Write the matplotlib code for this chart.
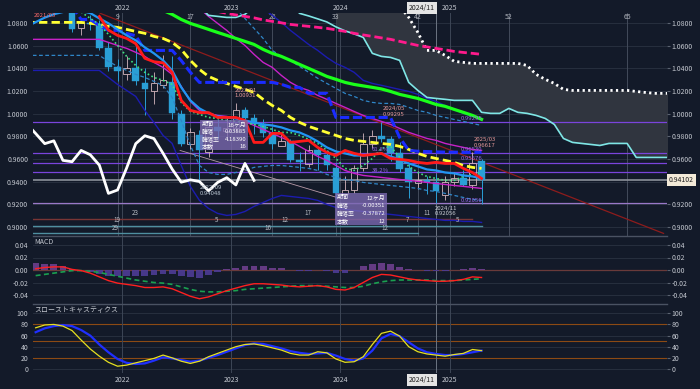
import numpy as np
import matplotlib.pyplot as plt
from matplotlib.patches import Rectangle
from matplotlib.ticker import FormatStrFormatter
from matplotlib.transforms import blended_transform_factory

plt.rcParams['font.family'] = ['Noto Sans CJK JP', 'DejaVu Sans']

BG = '#131a29'
TXT = '#c4c8d0'
GRID = '#2a3242'
VLINE = '#3d4656'

# monthly bars: index 0 = 2021/07 ... index 45 = 2025/04
opens = [1.0962, 1.0755, 1.0805, 1.0795, 1.0580, 1.0415, 1.0350, 1.0405, 1.0275, 1.0197,
         1.0250, 1.0277, 1.0000, 0.9728, 0.9810, 0.9665, 0.9880, 0.9850, 0.9875, 1.0030,
         0.9960, 0.9913, 0.9825, 0.9718, 0.9760, 0.9587, 0.9558, 0.9675, 0.9637, 0.9520,
         0.9290, 0.9325, 0.9520, 0.9730, 0.9805, 0.9780, 0.9650, 0.9516, 0.9390, 0.9415,
         0.9395, 0.9280, 0.9392, 0.9434, 0.9370, 0.9580]
highs = [1.0965, 1.0835, 1.0870, 1.0830, 1.0635, 1.0480, 1.0510, 1.0610, 1.0400, 1.0366,
         1.0516, 1.0507, 1.0035, 0.9870, 0.9860, 0.9920, 0.9950, 0.9960, 1.0093, 1.0060,
         1.0000, 0.9950, 0.9880, 0.9840, 0.9780, 0.9660, 0.9720, 0.9700, 0.9680, 0.9560,
         0.9450, 0.9550, 0.9825, 0.9855, 0.99295, 0.9800, 0.9750, 0.9560, 0.9490, 0.9450,
         0.9470, 0.9450, 0.9480, 0.9500, 0.96617, 0.9600]
lows = [1.0720, 1.0700, 1.0745, 1.0560, 1.0380, 1.0290, 1.0295, 1.0250, 0.9985, 1.0090,
        1.0224, 0.9950, 0.9710, 0.9690, 0.94048, 0.9620, 0.9780, 0.9780, 0.9840, 0.9890,
        0.9820, 0.9790, 0.9690, 0.9710, 0.9570, 0.9490, 0.9530, 0.9500, 0.9500, 0.9250,
        0.9260, 0.9300, 0.9490, 0.9700, 0.9750, 0.9580, 0.9480, 0.9250, 0.9330, 0.9290,
        0.92056, 0.9240, 0.9360, 0.9360, 0.9330, 0.9205]
closes = [1.0750, 1.0805, 1.0795, 1.0580, 1.0415, 1.0375, 1.0400, 1.0285, 1.0215, 1.0268,
          1.0295, 1.0010, 0.9736, 0.9834, 0.9675, 0.9880, 0.9850, 0.9875, 1.0030, 0.9960,
          0.9913, 0.9825, 0.9735, 0.9760, 0.9587, 0.9575, 0.9675, 0.9637, 0.9545, 0.9295,
          0.9325, 0.9520, 0.9735, 0.9805, 0.9780, 0.9650, 0.9510, 0.9394, 0.9415, 0.9400,
          0.9318, 0.9392, 0.9434, 0.9370, 0.9560, 0.9410]
last_price = 0.94102
chikou_shift = 25

# overlay lines: (first bar index, values)
tenkan = (3, [1.0860, 1.0740, 1.0693, 1.0666, 1.0620, 1.0490, 1.0460, 1.0450, 1.0366, 1.0118,
              1.0030, 1.0010, 1.0010, 0.9967, 0.9967, 0.9967, 0.9940, 0.9746, 0.9746, 0.9826,
              0.9826, 0.9746, 0.9755, 0.9764, 0.9702, 0.9658, 0.9630, 0.9675, 0.9649, 0.9630,
              0.9640, 0.9649, 0.9604, 0.9596, 0.9587, 0.9570, 0.9560, 0.9570, 0.9560, 0.9560,
              0.9516, 0.9480, 0.9427])
ma_short = (-5, [1.0770, 1.0810, 1.0850, 1.0880, 1.0900, 1.0910, 1.0910, 1.0890, 1.0843, 1.0800,
                 1.0746, 1.0693, 1.0649, 1.0587, 1.0534, 1.0472, 1.0383, 1.0233, 1.0118, 1.0047,
                 1.0003, 0.9976, 0.9967, 0.9958, 0.9940, 0.9923, 0.9905, 0.9896, 0.9879, 0.9852,
                 0.9834, 0.9799, 0.9755, 0.9702, 0.9666, 0.9649, 0.9630, 0.9630, 0.9640, 0.9649,
                 0.9622, 0.9596, 0.9560, 0.9534, 0.9507, 0.9498, 0.9480, 0.9472, 0.9454, 0.9445,
                 0.9427])
kijun = (0, [1.0950, 1.0834, 1.0834, 1.0780, 1.0737, 1.0737, 1.0710, 1.0690, 1.0560, 1.0560,
             1.0560, 1.0560, 1.0470, 1.0366, 1.0277, 1.0277, 1.0277, 1.0277, 1.0277, 1.0277,
             1.0277, 1.0277, 1.0277, 1.0260, 1.0233, 1.0233, 1.0180, 1.0180, 1.0180, 0.9967,
             0.9967, 0.9967, 0.9967, 0.9967, 0.9967, 0.9967, 0.9790, 0.9675, 0.9668, 0.9665,
             0.9662, 0.9660, 0.9660, 0.9658, 0.9658, 0.9658])
ma_mid = (-5, [1.0808, 1.0808, 1.0808, 1.0808, 1.0808, 1.0808, 1.0808, 1.0800, 1.0790, 1.0773,
               1.0764, 1.0746, 1.0728, 1.0711, 1.0684, 1.0666, 1.0631, 1.0569, 1.0472, 1.0392,
               1.0330, 1.0295, 1.0268, 1.0242, 1.0215, 1.0189, 1.0127, 1.0073, 1.0029, 0.9967,
               0.9923, 0.9888, 0.9861, 0.9834, 0.9808, 0.9781, 0.9764, 0.9755, 0.9746, 0.9737,
               0.9728, 0.9711, 0.9684, 0.9649, 0.9622, 0.9604, 0.9587, 0.9569, 0.9542, 0.9525,
               0.9516])
ma_fast = (1, [1.0900, 1.0843, 1.0790, 1.0702, 1.0604, 1.0507, 1.0427, 1.0366, 1.0321, 1.0295,
               1.0259, 1.0100, 1.0020, 0.9994, 0.9967, 0.9958, 0.9940, 0.9931, 0.9923, 0.9905,
               0.9888, 0.9861, 0.9834, 0.9834, 0.9808, 0.9773, 0.9737, 0.9675, 0.9604, 0.9516,
               0.9498, 0.9542, 0.9604, 0.9693, 0.9711, 0.9613, 0.9534, 0.9480, 0.9445, 0.9427,
               0.9410, 0.9410, 0.9445, 0.9463, 0.9480])
band_mag_low = (-5, [1.0658, 1.0658, 1.0658, 1.0658, 1.0658, 1.0658, 1.0658, 1.0658, 1.0658, 1.0631,
                     1.0604, 1.0578, 1.0543, 1.0507, 1.0454, 1.0410, 1.0348, 1.0242, 1.0109, 1.0029,
                     1.0003, 0.9985, 0.9976, 0.9958, 0.9931, 0.9896, 0.9861, 0.9826, 0.9790, 0.9755,
                     0.9711, 0.9666, 0.9622, 0.9587, 0.9542, 0.9498, 0.9472, 0.9454, 0.9445, 0.9436,
                     0.9427, 0.9418, 0.9410, 0.9401, 0.9392, 0.9383, 0.9374, 0.9365, 0.9357, 0.9348,
                     0.9339])
band_mag_up = (14, [1.0932, 1.0861, 1.0799, 1.0737, 1.0666, 1.0604, 1.0525, 1.0454, 1.0410, 1.0339,
                    1.0277, 1.0233, 1.0206, 1.0162, 1.0127, 1.0091, 1.0056, 1.0020, 0.9985, 0.9958,
                    0.9932, 0.9905, 0.9870, 0.9835, 0.9808, 0.9781, 0.9764, 0.9737, 0.9719, 0.9702,
                    0.9684, 0.9675])
band_dash_up = (18, [1.0932, 1.0843, 1.0755, 1.0666, 1.0560, 1.0507, 1.0472, 1.0419, 1.0366, 1.0313,
                     1.0268, 1.0224, 1.0180, 1.0153, 1.0118, 1.0100, 1.0091, 1.0091, 1.0082, 1.0056,
                     1.0029, 1.0012, 0.9985, 0.9967, 0.9949, 0.9932, 0.9914, 0.9896])
band_dash_low = (-5, [1.0516, 1.0516, 1.0516, 1.0516, 1.0516, 1.0516, 1.0516, 1.0516, 1.0516, 1.0463,
                      1.0419, 1.0383, 1.0348, 1.0321, 1.0286, 1.0250, 1.0144, 0.9940, 0.9720, 0.9542,
                      0.9480, 0.9463, 0.9463, 0.9480, 0.9498, 0.9525, 0.9534, 0.9542, 0.9542, 0.9534,
                      0.9525, 0.9516, 0.9498, 0.9463, 0.9436, 0.9418, 0.9410, 0.9392, 0.9383, 0.9374,
                      0.9365, 0.9357, 0.9348, 0.9339, 0.9321, 0.9312, 0.9295, 0.9277, 0.9259, 0.9241,
                      0.9233])
band_navy_up = (21, [1.0932, 1.0870, 1.0808, 1.0737, 1.0675, 1.0613, 1.0560, 1.0498, 1.0445, 1.0410,
                     1.0366, 1.0295, 1.0268, 1.0251, 1.0233, 1.0215, 1.0197, 1.0171, 1.0135, 1.0109,
                     1.0073, 1.0038, 1.0003, 0.9976, 0.9958])
band_navy_low = (-5, [1.0383, 1.0383, 1.0383, 1.0383, 1.0383, 1.0383, 1.0383, 1.0383, 1.0383, 1.0321,
                      1.0259, 1.0206, 1.0153, 1.0029, 0.9923, 0.9808, 0.9737, 0.9542, 0.9357, 0.9233,
                      0.9162, 0.9118, 0.9100, 0.9109, 0.9135, 0.9180, 0.9215, 0.9250, 0.9277, 0.9268,
                      0.9259, 0.9250, 0.9233, 0.9197, 0.9171, 0.9153, 0.9144, 0.9135, 0.9127, 0.9118,
                      0.9109, 0.9100, 0.9091, 0.9082, 0.9073, 0.9065, 0.9056, 0.9056, 0.9047, 0.9047,
                      0.9038])
ma_long = (10, [1.0914, 1.0879, 1.0834, 1.0799, 1.0773, 1.0746, 1.0719, 1.0693, 1.0666, 1.0640,
                1.0613, 1.0569, 1.0534, 1.0507, 1.0472, 1.0436, 1.0401, 1.0366, 1.0330, 1.0304,
                1.0277, 1.0259, 1.0246, 1.0233, 1.0219, 1.0197, 1.0171, 1.0153, 1.0135, 1.0109,
                1.0082, 1.0065, 1.0038, 1.0012, 0.9985, 0.9950])
ma_xlong = (16, [1.0905, 1.0888, 1.0874, 1.0861, 1.0848, 1.0830, 1.0817, 1.0804, 1.0790, 1.0781,
                 1.0773, 1.0764, 1.0755, 1.0742, 1.0728, 1.0711, 1.0697, 1.0684, 1.0671, 1.0658,
                 1.0640, 1.0622, 1.0604, 1.0591, 1.0578, 1.0565, 1.0551, 1.0542, 1.0534, 1.0525])
span_cyan = (14, [1.0950, 1.0870, 1.0861, 1.0852, 1.0852, 1.0879, 1.0950, 1.0990, 1.1000, 1.1000,
                  1.0980, 1.0888, 1.0865, 1.0839, 1.0812, 1.0768, 1.0733, 1.0706, 1.0675, 1.0534,
                  1.0507, 1.0498, 1.0472, 1.0277, 1.0206, 1.0144, 1.0135, 1.0127, 1.0118, 1.0118,
                  1.0118, 1.0012, 1.0003, 1.0003, 1.0047, 1.0012, 1.0003, 0.9985, 0.9958, 0.9905,
                  0.9781, 0.9746, 0.9737, 0.9728, 0.9719, 0.9737, 0.9737, 0.9737, 0.9613, 0.9613,
                  0.9613, 0.9613, 0.9613])
span_white = (29, [1.1000, 1.1000, 1.1000, 1.1000, 1.1000, 1.1000, 1.0980, 1.0950, 1.0852, 1.0719,
                   1.0560, 1.0560, 1.0516, 1.0463, 1.0454, 1.0445, 1.0445, 1.0445, 1.0445, 1.0445,
                   1.0445, 1.0427, 1.0348, 1.0304, 1.0268, 1.0215, 1.0206, 1.0206, 1.0206, 1.0206,
                   1.0206, 1.0206, 1.0206, 1.0197, 1.0188, 1.0180, 1.0180, 1.0180])

trend_x = [3.1, 65.0]
trend_y = [1.0888, 0.8941]
range_x = [11.87, 29.1]
range_y = [0.9675, 0.9259]

fib_levels = [0.99295, 0.96530, 0.95676, 0.94820]
fib_low = 0.92056
fib_tags = ['0.99295', '0.96530', '0.95676', '0.92056']
fib_tag_y = [0.9958, 0.9684, 0.9600, 0.9233]
fib_pct = ['61.8%', '38.2%']
fib_pct_y = [0.9684, 0.9498]

years = ['2022', '2023', '2024', '2025']
year_pos = [5.5, 17.5, 29.5, 41.5]
count_labels = ['9', '17', '26', '33', '42', '52', '65']
count_pos = [5, 13, 22, 29, 38, 48, 61]
cursor_pos = 40
cursor_label = '2024/11'

span_levels = [0.9071, 0.9008, 0.8943]
span_ends = [44, 45, 38]
span_texts = [[('23', 6.9), ('17', 25.9), ('11', 39.0)],
              [('19', 4.9), ('5', 15.9), ('12', 23.4), ('7', 36.9), ('5', 42.4)],
              [('29', 4.8), ('16', 21.5), ('12', 34.4)]]

box1_rows = [('期間', '16ヶ月'), ('騰落', '0.03885'), ('騰落率', '4.18390'), ('本数', '16')]
box2_rows = [('期間', '12ヶ月'), ('騰落', '-0.00351'), ('騰落率', '-0.37872'), ('本数', '12')]

# MACD and slow stochastics, first index -4
macd_line = [0.002, 0.004, 0.005, 0.005, 0.001, -0.001, -0.005, -0.011, -0.017, -0.021,
             -0.023, -0.025, -0.028, -0.028, -0.027, -0.030, -0.036, -0.042, -0.046, -0.043,
             -0.038, -0.033, -0.029, -0.025, -0.022, -0.022, -0.023, -0.024, -0.026, -0.027,
             -0.026, -0.025, -0.027, -0.031, -0.032, -0.028, -0.020, -0.012, -0.007, -0.008,
             -0.011, -0.014, -0.016, -0.017, -0.018, -0.018, -0.017, -0.015, -0.011, -0.012]
macd_signal = [-0.009, -0.007, -0.005, -0.003, -0.001, -0.001, -0.002, -0.004, -0.007, -0.010,
               -0.013, -0.016, -0.018, -0.020, -0.021, -0.023, -0.027, -0.031, -0.034, -0.035,
               -0.035, -0.034, -0.033, -0.031, -0.030, -0.029, -0.028, -0.027, -0.026, -0.025,
               -0.025, -0.025, -0.026, -0.027, -0.028, -0.028, -0.026, -0.022, -0.019, -0.017,
               -0.016, -0.016, -0.016, -0.016, -0.017, -0.017, -0.017, -0.016, -0.015, -0.014]
macd_hist = [0.011, 0.010, 0.009, 0.007, 0.002, 0.000, -0.003, -0.007, -0.009, -0.010,
             -0.010, -0.009, -0.009, -0.008, -0.006, -0.007, -0.009, -0.011, -0.012, -0.008,
             -0.003, 0.001, 0.004, 0.006, 0.007, 0.006, 0.004, 0.003, 0.000, -0.002,
             -0.001, 0.000, -0.001, -0.004, -0.004, 0.000, 0.006, 0.010, 0.012, 0.009,
             0.005, 0.002, 0.000, -0.001, -0.001, -0.001, 0.000, 0.001, 0.004, 0.002]
stoch_k = [74, 79, 80, 77, 69, 52, 36, 23, 12, 5, 7, 11, 15, 19, 25, 20, 14, 10, 14, 22,
           28, 34, 40, 44, 45, 42, 38, 34, 28, 25, 25, 31, 29, 18, 12, 13, 22, 44, 64, 68,
           59, 40, 31, 27, 25, 23, 26, 28, 35, 33]
stoch_d = [66, 73, 77, 79, 77, 70, 60, 44, 30, 18, 11, 9, 10, 15, 21, 19, 16, 13, 15, 20,
           25, 31, 37, 43, 46, 45, 41, 37, 32, 29, 27, 28, 29, 24, 18, 15, 19, 33, 55, 63,
           59, 48, 37, 30, 27, 25, 25, 27, 30, 33]
osc_start = -4


def draw(ax, line, **kw):
    start, vals = line
    ax.plot(np.arange(start, start + len(vals)), vals, **kw)


fig = plt.figure(figsize=(7.0, 3.89), dpi=100, facecolor=BG)
L, W = 33 / 700, 634 / 700
ax = fig.add_axes([L, 153 / 389, W, 223 / 389])
ax_m = fig.add_axes([L, 85 / 389, W, 68 / 389])
ax_s = fig.add_axes([L, 16 / 389, W, 69 / 389])

for a in (ax, ax_m, ax_s):
    a.set_facecolor(BG)
    a.set_xlim(-4.29, 65.38)
    for s in a.spines.values():
        s.set_visible(False)
    a.tick_params(axis='y', labelleft=True, labelright=True, left=False, right=True,
                  length=2, color='#5a6270', labelsize=5, labelcolor=TXT, pad=1.5)
    a.tick_params(axis='x', bottom=False, labelbottom=False)
    for p in year_pos:
        a.axvline(p, color=VLINE, lw=0.7, zorder=0.8)
    a.axvline(cursor_pos, color='#6c7482', lw=0.7, zorder=0.8)
for a in (ax_m, ax_s):
    a.spines['top'].set_visible(True)
    a.spines['top'].set_color('#4a5262')
    a.spines['top'].set_linewidth(1.0)

# ---- main panel ----
ax.set_ylim(0.8918, 1.0891)
main_ticks = np.arange(0.90, 1.0801, 0.02)
ax.set_yticks(main_ticks)
ax.yaxis.set_major_formatter(FormatStrFormatter('%.4f'))
# the right-hand 0.9400 label sits under the last-price tag
for t, v in zip(ax.yaxis.get_major_ticks(), main_ticks):
    if abs(v - 0.94) < 1e-6:
        t.label2.set_visible(False)
for v in main_ticks:
    ax.axhline(v, color=GRID, lw=0.6, zorder=0.5)
for p in count_pos:
    ax.axvline(p, color='#434b5b', lw=0.7, zorder=0.8)

xc = np.arange(span_white[0], span_white[0] + len(span_white[1]))
cy = span_cyan[1][span_white[0] - span_cyan[0]:]
ax.fill_between(xc, cy, span_white[1], color='#30353f', lw=0, zorder=0.9)

for v in fib_levels:
    ax.axhline(v, color='#7a44dc', lw=0.9, zorder=1.5)
ax.axhline(fib_low, color='#9a78c8', lw=0.9, zorder=1.5)
ax.axhline(last_price, color='#8c919a', lw=1.2, zorder=1.5)

for lvl, end, col in zip(span_levels, span_ends, ['#7a3535', '#4f8fa0', '#4f8fa0']):
    ax.plot([-4.29, end], [lvl, lvl], color=col, lw=1.0, zorder=1.6)
for lvl, texts in zip(span_levels, span_texts):
    for t, p in texts:
        ax.text(p, lvl + 0.0012, t, fontsize=4.5, color='#b8bcc4', ha='center', va='bottom', zorder=6)

ax.plot(trend_x, trend_y, color='#8e1c1c', lw=0.9, zorder=1.7)
ax.plot(range_x, range_y, color='#b89aa8', lw=0.6, zorder=1.7)

# candles
BEAR, BULL = '#2a9fd6', '#d4b6be'
w = 0.72
for i, (o, h, l, c) in enumerate(zip(opens, highs, lows, closes)):
    top, bot = max(o, c), min(o, c)
    if c < o:
        ax.vlines(i, l, h, color=BEAR, lw=0.7, zorder=3)
        ax.add_patch(Rectangle((i - w / 2, bot), w, max(top - bot, 0.0005), facecolor=BEAR,
                               edgecolor=BEAR, lw=0.3, zorder=3))
    else:
        ax.vlines(i, top, h, color=BULL, lw=0.6, zorder=3)
        ax.vlines(i, l, bot, color=BULL, lw=0.6, zorder=3)
        ax.add_patch(Rectangle((i - w / 2, bot), w, max(top - bot, 0.0005), facecolor='none',
                               edgecolor=BULL, lw=0.6, zorder=3))

draw(ax, band_navy_low, color='#1c1cb0', lw=1.0, zorder=4)
draw(ax, band_navy_up, color='#1c1cb0', lw=1.0, zorder=4)
draw(ax, band_dash_low, color='#2f86c8', lw=0.9, ls=(0, (3, 2)), zorder=4)
draw(ax, band_dash_up, color='#2f86c8', lw=0.9, ls=(0, (3, 2)), zorder=4)
draw(ax, band_mag_low, color='#c822c8', lw=1.0, zorder=4)
draw(ax, band_mag_up, color='#c822c8', lw=1.0, zorder=4)
draw(ax, span_cyan, color='#7fe6e6', lw=1.2, zorder=4)
draw(ax, span_white, color='white', lw=2.0, ls=(0, (0.8, 1.2)), zorder=4)
draw(ax, ma_xlong, color='#ff1a8c', lw=2.0, ls=(0, (3, 1.4)), zorder=4.2)
draw(ax, ma_long, color='#1aff1a', lw=2.3, zorder=4.2)
draw(ax, ma_mid, color='#ffff33', lw=2.0, ls=(0, (3, 1.5)), zorder=4.3)
draw(ax, kijun, color='#1a2cff', lw=2.2, ls=(0, (3, 1.2)), zorder=4.3)
draw(ax, ma_fast, color='#3fe080', lw=1.2, ls=(0, (1, 1.5)), zorder=4.4)
draw(ax, ma_short, color='#2196f3', lw=1.6, zorder=4.5)
draw(ax, tenkan, color='#ff1a1a', lw=2.0, zorder=4.6)
ck = np.arange(len(closes)) - chikou_shift
ax.plot(ck, closes, color='white', lw=2.0, zorder=4.7)


def info_box(x0, x1, ytop, ybot, rows):
    ax.add_patch(Rectangle((x0, ybot), x1 - x0, ytop - ybot, facecolor='#7a68b0', alpha=0.8,
                           edgecolor='none', zorder=6))
    n = len(rows)
    for k, (lab, val) in enumerate(rows):
        y = ytop - (k + 0.5) * (ytop - ybot) / n
        ax.text(x0 + 0.2, y, lab, fontsize=4.3, color='white', va='center', ha='left', zorder=7)
        ax.text(x1 - 0.2, y, val, fontsize=4.3, color='white', va='center', ha='right', zorder=7)


info_box(14.07, 19.34, 0.9941, 0.9675, box1_rows)
info_box(28.9, 34.6, 0.9295, 0.9012, box2_rows)

note_kw = dict(fontsize=4.3, ha='left', va='center', linespacing=1.15, zorder=6)
ax.text(-4.2, 1.0872, '2021/03', color='#ff6b6b', **note_kw)
ax.text(17.9, 1.0184, '2023/01\n1.00931', color='#e89a9a', **note_kw)
ax.text(14.07, 0.9321, '2022/09\n0.94048', color='#b8c4d0', **note_kw)
ax.text(34.1, 1.0020, '2024/05\n0.99295', color='#e89a9a', **note_kw)
ax.text(39.9, 0.9140, '2024/11\n0.92056', color='#c8ccd4', **note_kw)
ax.text(44.1, 0.9746, '2025/03\n0.96617', color='#e89a9a', **note_kw)
for t, v in zip(fib_tags, fib_tag_y):
    ax.text(45.1, v, t, fontsize=4.3, color='#9868e8', ha='right', va='center', zorder=6)
for t, v in zip(fib_pct, fib_pct_y):
    ax.text(33.85, v, t, fontsize=4.3, color='#9868e8', ha='center', va='center', zorder=6)

tr_top = blended_transform_factory(ax.transData, ax.transAxes)
for t, p in zip(years, year_pos):
    ax.text(p, 1.022, t, transform=tr_top, fontsize=5, color=TXT, ha='center', va='center',
            clip_on=False)
for t, p in zip(count_labels, count_pos):
    ax.text(p, 0.982, t, transform=tr_top, fontsize=5, color='#b0b4bc', ha='center', va='center')
ax.text(cursor_pos - 0.1, 1.022, cursor_label, transform=tr_top, fontsize=5, color='#202020',
        ha='right', va='center', clip_on=False, zorder=10,
        bbox=dict(boxstyle='square,pad=0.25', fc='#e4e4e4', ec='none'))
tr_right = blended_transform_factory(ax.transAxes, ax.transData)
ax.text(1.003, last_price, '%.5f' % last_price, transform=tr_right, fontsize=5, color='#202020',
        ha='left', va='center', clip_on=False, zorder=10,
        bbox=dict(boxstyle='square,pad=0.3', fc='#f3ead8', ec='none'))

# ---- MACD ----
ax_m.set_ylim(-0.0544, 0.0544)
ax_m.set_yticks([-0.04, -0.02, 0.0, 0.02, 0.04])
ax_m.yaxis.set_major_formatter(FormatStrFormatter('%.2f'))
for v in [-0.04, -0.02, 0.02, 0.04]:
    ax_m.axhline(v, color=GRID, lw=0.6, zorder=0.5)
ax_m.axhline(0, color='#6a3a3a', lw=0.9, zorder=1)
xo = np.arange(osc_start, osc_start + len(macd_line))
ax_m.bar(xo, macd_hist, width=0.75, color=['#6e3f8e' if h >= 0 else '#4d3c96' for h in macd_hist],
         alpha=0.9, zorder=2)
ax_m.plot(xo, macd_signal, color='#1aa050', lw=1.2, ls=(0, (3, 2)), zorder=3)
ax_m.plot(xo, macd_line, color='#ff2020', lw=1.0, zorder=4)
ax_m.text(0.002, 0.91, 'MACD', transform=ax_m.transAxes, fontsize=5, color=TXT, va='center')

# ---- slow stochastics ----
ax_s.set_ylim(-7.2, 116.7)
ax_s.set_yticks([0, 20, 40, 60, 80, 100])
ax_s.yaxis.set_major_formatter(FormatStrFormatter('%d'))
for v in [0, 40, 60, 100]:
    ax_s.axhline(v, color=GRID, lw=0.6, zorder=0.5)
for v in [20, 50, 80]:
    ax_s.axhline(v, color='#8c4a14', lw=0.8, zorder=0.6)
ax_s.plot(xo, stoch_d, color='#1f2fff', lw=1.6, zorder=2)
ax_s.plot(xo, stoch_k, color='#e6e020', lw=0.9, zorder=3)
ax_s.text(0.002, 0.913, 'スローストキャスティクス', transform=ax_s.transAxes, fontsize=5,
          color=TXT, va='center')
tr_bot = blended_transform_factory(ax_s.transData, ax_s.transAxes)
for t, p in zip(years, year_pos):
    ax_s.text(p, -0.10, t, transform=tr_bot, fontsize=5, color=TXT, ha='center', va='center',
              clip_on=False)
ax_s.text(cursor_pos - 0.1, -0.10, cursor_label, transform=tr_bot, fontsize=5, color='#202020',
          ha='right', va='center', clip_on=False, zorder=10,
          bbox=dict(boxstyle='square,pad=0.25', fc='#e4e4e4', ec='none'))

fig.savefig('out.png', dpi=100, facecolor=BG)
